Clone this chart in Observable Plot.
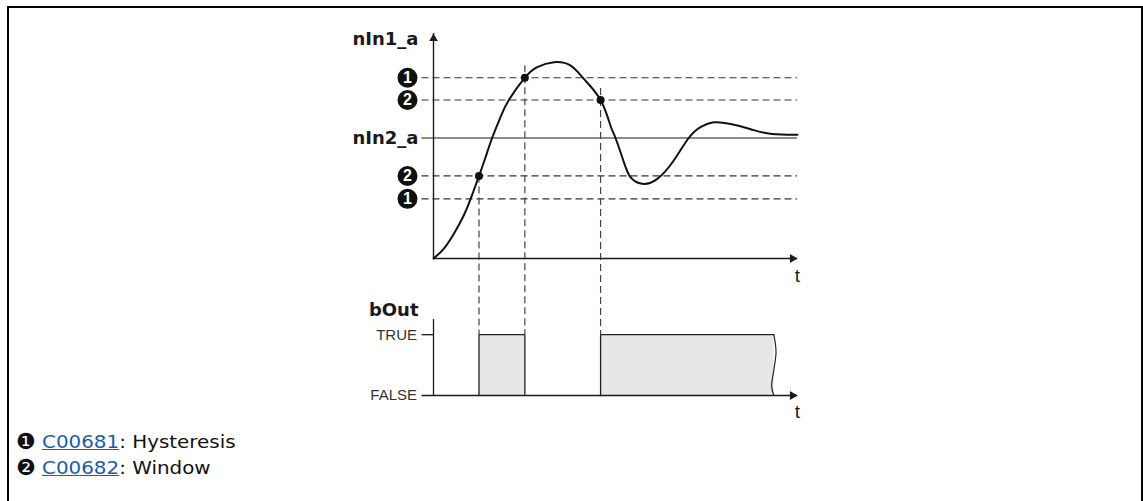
<!DOCTYPE html>
<html><head><meta charset="utf-8">
<script src="https://cdn.jsdelivr.net/npm/d3@7"></script>
<script src="https://cdn.jsdelivr.net/npm/@observablehq/plot@0.6"></script>
<style>
html,body{margin:0;padding:0;background:#fff;}
body{width:1143px;height:501px;overflow:hidden;position:relative;}
#frame{position:absolute;left:7px;top:6px;width:1136px;height:600px;border:2px solid #000;box-sizing:border-box;}
#charts{position:absolute;left:0;top:0;width:1143px;height:430px;}
#charts svg{position:absolute;left:0;top:0;overflow:visible;}
#legend{position:absolute;left:0;top:429px;font-family:"DejaVu Sans",sans-serif;font-size:17px;color:#111;width:600px;}
.row{position:relative;height:26px;line-height:26px;white-space:nowrap;}
.mark{position:absolute;left:16px;top:0;font-size:22px;line-height:26px;}
.txt{position:absolute;left:42px;top:0;transform:scaleX(1.17);transform-origin:0 50%;}
.txt a{color:#1a5da8;text-decoration:underline;}
</style></head><body>
<div id="frame"></div>
<div id="charts"></div>
<div id="legend"></div>
<script>
// ---- data ----
const curveT = [0, 2.8, 5.6, 8.3, 10.2, 12.5, 14.3, 16.1, 18.4, 20.7, 25.1, 28.5, 33.1, 37.6, 41.3, 45.9, 48.6, 50, 52.3, 54.1, 57.3, 61.5, 66, 70.1, 73.6, 77, 80, 84, 88, 93, 100];
const curveV = [0, 8, 20.5, 35.7, 49.5, 68.5, 84, 100, 117.3, 131.5, 150, 158.8, 162.9, 160.2, 149.1, 131.5, 110.4, 100, 79.9, 67.5, 62, 66.1, 81.3, 100, 109.5, 113, 112.4, 110, 106.5, 103.3, 102.7];
const hystLevels = [150, 131.5, 68.5, 49.5];
const levelMarks = ["1", "2", "2", "1"];
const refLevel = 100;
const refLabel = "nIn2_a";
const yLabel = "nIn1_a";
const switchT = [12.5, 25.1, 45.9];
const switchV = [68.5, 150, 131.5];
const guideTop = [68.5, 160, 141];
const pulseStart = [12.5, 45.9];
const pulseEnd = [25.1, 93.5];
const waveT = [93.5, 94.1, 93.5, 92.9, 93.5];
const waveV = [1, 0.72, 0.42, 0.15, 0];
const boolLabels = ["FALSE", "TRUE"];
const boolValues = [0, 1];
const bottomLabel = "bOut";
const timeLabel = "t";
const legendMarks = ["\u2776", "\u2777"];
const legendCodes = ["C00681", "C00682"];
const legendNames = ["Hysteresis", "Window"];
const tMax = 100, vTop = 186.7, bTop = 1.25;

// ---- layout ----
const X = {domain: [0, tMax], range: [433, 797], axis: null};
const topY = {domain: [0, vTop], range: [258, 33], axis: null};
const botY = {domain: [0, bTop], range: [395, 319], axis: null};
const ink = "#1a1a1a";
const baseStyle = {background: "transparent", fontFamily: "Liberation Sans, Arial, sans-serif", color: ink, overflow: "visible"};
const boldFont = "DejaVu Sans, sans-serif";

// pulse outlines
const outline = [];
pulseStart.forEach((s, i) => {
  const e = pulseEnd[i];
  outline.push({t: s, v: 0, k: i}, {t: s, v: 1, k: i}, {t: e, v: 1, k: i});
  if (i < pulseStart.length - 1) outline.push({t: e, v: 0, k: i});
});
const pulses = pulseStart.map((s, i) => ({start: s, end: pulseEnd[i]}));

const bottomPlot = Plot.plot({
  width: 1143, height: 430, margin: 0,
  style: baseStyle,
  x: X, y: botY,
  marks: [
    Plot.rect(pulses, {x1: "start", x2: "end", y1: 0, y2: 1, fill: "#e6e7e8"}),
    Plot.line(outline, {x: "t", y: "v", z: "k", stroke: "#222", strokeWidth: 1.3}),
    Plot.line(waveT, {x: d => d, y: (d, i) => waveV[i], curve: "catmull-rom", stroke: "#222", strokeWidth: 1.2}),
    Plot.ruleX([0], {y1: 0, y2: bTop, stroke: ink, strokeWidth: 1.3}),
    Plot.ruleY([0], {x1: 0, x2: tMax, insetLeft: -11.5, stroke: ink, strokeWidth: 1.3}),
    Plot.ruleY([1], {x1: 0, x2: 0, insetLeft: -11.5, stroke: ink, strokeWidth: 1.3}),
    Plot.dot([tMax], {x: d => d, y: 0, symbol: "triangle", rotate: 90, r: 3.3, dx: -5, fill: ink, stroke: "none"}),
    Plot.text(boolLabels, {x: 0, y: (d, i) => boolValues[i], dx: -16.5, textAnchor: "end", fontSize: 15, fill: "#333"}),
    Plot.text([bottomLabel], {x: 0, y: bTop, dx: -15, dy: -9.5, textAnchor: "end", fontSize: 18, fontWeight: "bold", fontFamily: boldFont, fill: ink}),
    Plot.text([timeLabel], {x: tMax, y: 0, dy: 16, fontSize: 19, fill: ink})
  ]
});

const trueV = d3.scaleLinear(topY.domain, topY.range).invert(bottomPlot.scale("y").apply(1));

const topPlot = Plot.plot({
  width: 1143, height: 430, margin: 0,
  style: baseStyle,
  x: X, y: topY,
  marks: [
    Plot.ruleY(hystLevels, {x1: 0, x2: tMax, insetLeft: -11.5, stroke: "#333", strokeWidth: 1.2, strokeDasharray: "7,4"}),
    Plot.ruleY([refLevel], {x1: 0, x2: tMax, insetLeft: -11.5, stroke: "#666", strokeWidth: 1.5}),
    Plot.ruleX(switchT, {x: d => d, y1: (d, i) => guideTop[i], y2: trueV, stroke: "#444", strokeWidth: 1.2, strokeDasharray: "7,4"}),
    Plot.ruleX([0], {y1: 0, y2: vTop, stroke: ink, strokeWidth: 1.4}),
    Plot.ruleY([0], {x1: 0, x2: tMax, stroke: ink, strokeWidth: 1.4}),
    Plot.dot([vTop], {x: 0, y: d => d, symbol: "triangle", r: 3.2, dy: 5, fill: ink, stroke: "none"}),
    Plot.dot([tMax], {x: d => d, y: 0, symbol: "triangle", rotate: 90, r: 3.3, dx: -5, fill: ink, stroke: "none"}),
    Plot.line(curveT, {x: d => d, y: (d, i) => curveV[i], curve: "natural", stroke: "#111", strokeWidth: 2}),
    Plot.dot(switchT, {x: d => d, y: (d, i) => switchV[i], r: 4, fill: "#111", stroke: "none"}),
    Plot.dot(hystLevels, {x: 0, y: d => d, dx: -26, r: 10, fill: "#111", stroke: "none"}),
    Plot.text(hystLevels, {x: 0, y: d => d, dx: -26, text: (d, i) => levelMarks[i], fill: "white", fontWeight: "bold", fontSize: 16}),
    Plot.text([refLabel], {x: 0, y: refLevel, dx: -15, textAnchor: "end", fontSize: 18, fontWeight: "bold", fontFamily: boldFont, fill: ink}),
    Plot.text([yLabel], {x: 0, y: vTop, dx: -15, dy: 5.5, textAnchor: "end", fontSize: 18, fontWeight: "bold", fontFamily: boldFont, fill: ink}),
    Plot.text([timeLabel], {x: tMax, y: 0, dy: 17.5, fontSize: 19, fill: ink})
  ]
});

const charts = document.getElementById("charts");
charts.appendChild(bottomPlot);
charts.appendChild(topPlot);

// ---- legend ----
const legend = d3.select("#legend");
legendCodes.forEach((code, i) => {
  const row = legend.append("div").attr("class", "row");
  row.append("span").attr("class", "mark").text(legendMarks[i]);
  const txt = row.append("span").attr("class", "txt");
  txt.append("a").attr("href", "#").text(code);
  txt.append("span").text(": " + legendNames[i]);
});
</script></body></html>
